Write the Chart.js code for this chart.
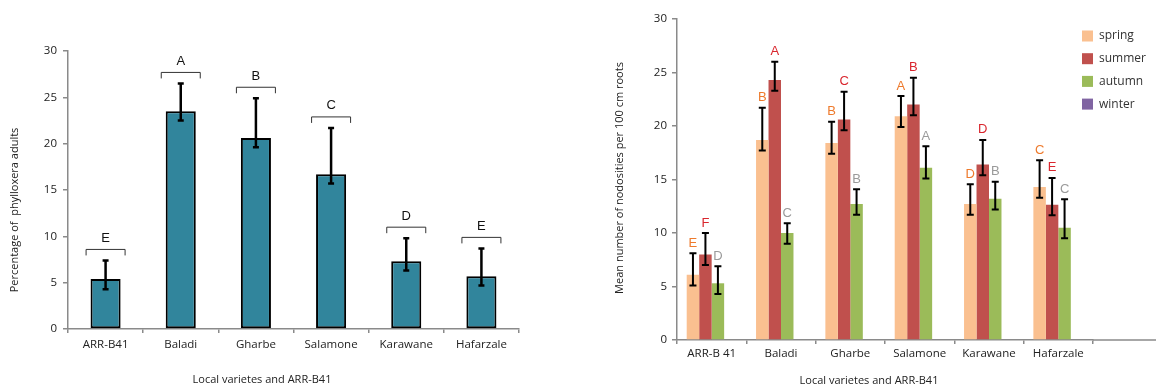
<!DOCTYPE html>
<html>
<head>
<meta charset="utf-8">
<script src="https://cdn.jsdelivr.net/npm/chart.js@4.4.1/dist/chart.umd.min.js"></script>
<style>
  html, body { margin: 0; padding: 0; background: #fff; }
  #wrap { position: relative; width: 1156px; height: 388px; }
  canvas { position: absolute; top: 0; }
</style>
</head>
<body>
<div id="wrap">
  <canvas id="adultsChart" width="578" height="388" style="left:0"></canvas>
  <canvas id="nodoChart" width="578" height="388" style="left:578px"></canvas>
</div>
<script>
// left chart: percentage of phylloxera adults
const varieties = ['ARR-B41', 'Baladi', 'Gharbe', 'Salamone', 'Karawane', 'Hafarzale'];
const adults = [5.4, 23.5, 20.6, 16.7, 7.3, 5.7];
const adultsErrUp = [2.0, 3.0, 4.3, 5.0, 2.5, 3.0];
const adultsErrDown = [1.1, 1.0, 1.0, 1.0, 1.0, 1.0];
const adultsLetters = ['E', 'A', 'B', 'C', 'D', 'E'];

// right chart: nodosities per season
const varietiesRight = ['ARR-B 41', 'Baladi', 'Gharbe', 'Salamone', 'Karawane', 'Hafarzale'];
const seasons = ['spring', 'summer', 'autumn', 'winter'];
const spring = [6.1, 18.7, 18.4, 20.9, 12.7, 14.3];
const springErrUp = [2.0, 3.0, 2.0, 1.9, 1.85, 2.5];
const springErrDown = [1, 1, 1, 1, 1, 1];
const springLetters = ['E', 'B', 'B', 'A', 'D', 'C'];
const summer = [8.0, 24.3, 20.6, 22.0, 16.4, 12.65];
const summerErrUp = [2.0, 1.7, 2.6, 2.5, 2.3, 2.5];
const summerErrDown = [1, 1, 1, 1, 1, 1];
const summerLetters = ['F', 'A', 'C', 'B', 'D', 'E'];
const autumn = [5.3, 10.0, 12.7, 16.1, 13.2, 10.5];
const autumnErrUp = [1.6, 0.9, 1.4, 2.0, 1.6, 2.65];
const autumnErrDown = [1, 1, 1, 1, 1, 1];
const autumnLetters = ['D', 'C', 'B', 'A', 'B', 'C'];
const winter = [null, null, null, null, null, null];

const yMin = 0;
const yMax = 30;
const yStep = 5;

const tickFont = { family: 'Open Sans', size: 11.5 };
const axisGray = '#8a8a8a';

// error bars + significance letters (and brackets on the left chart)
const errorBarsPlugin = {
    id: 'errorBars',
    afterDatasetsDraw(chart, args, opts) {
        const ctx = chart.ctx;
        const yScale = chart.scales.y;
        chart.data.datasets.forEach((ds, i) => {
            if (!ds.errUp) return;
            const meta = chart.getDatasetMeta(i);
            meta.data.forEach((bar, j) => {
                const v = ds.data[j];
                if (v == null) return;
                const x = bar.x;
                const yTop = yScale.getPixelForValue(v + ds.errUp[j]);
                const yBot = yScale.getPixelForValue(v - ds.errDown[j]);
                ctx.save();
                ctx.strokeStyle = '#000';
                ctx.lineWidth = opts.lineWidth;
                ctx.beginPath();
                ctx.moveTo(x, yTop);
                ctx.lineTo(x, yBot);
                ctx.moveTo(x - opts.cap, yTop);
                ctx.lineTo(x + opts.cap, yTop);
                ctx.moveTo(x - opts.cap, yBot);
                ctx.lineTo(x + opts.cap, yBot);
                ctx.stroke();

                let labelY = yTop - opts.letterGap;
                if (opts.bracket) {
                    const b = opts.bracket;
                    const top = yTop - b.gap;
                    ctx.strokeStyle = '#333';
                    ctx.lineWidth = 1;
                    ctx.beginPath();
                    ctx.moveTo(x - b.half, top + b.legs);
                    ctx.lineTo(x - b.half, top);
                    ctx.lineTo(x + b.half, top);
                    ctx.lineTo(x + b.half, top + b.legs);
                    ctx.stroke();
                    labelY = top - opts.letterGap;
                }
                ctx.fillStyle = ds.letterColor;
                ctx.font = opts.font;
                ctx.textAlign = 'center';
                ctx.textBaseline = 'middle';
                ctx.fillText(ds.letters[j], x, labelY);
                ctx.restore();
            });
        });
    }
};

// axis titles placed where the original figure has them
const titlesPlugin = {
    id: 'titles',
    afterDraw(chart, args, opts) {
        const ctx = chart.ctx;
        ctx.save();
        ctx.fillStyle = '#222';
        ctx.font = opts.font;
        ctx.textAlign = 'center';
        ctx.textBaseline = 'middle';
        ctx.fillText(opts.xText, opts.xPos[0], opts.xPos[1]);
        ctx.translate(opts.yPos[0], opts.yPos[1]);
        ctx.rotate(-Math.PI / 2);
        ctx.fillText(opts.yText, 0, 0);
        ctx.restore();
    }
};

// right chart: x axis line runs on past the last category, plus the legend
const extrasPlugin = {
    id: 'extras',
    afterDraw(chart, args, opts) {
        if (!opts.enabled) return;
        const ctx = chart.ctx;
        const xScale = chart.scales.x;
        ctx.save();
        ctx.strokeStyle = axisGray;
        ctx.lineWidth = 1.5;
        ctx.beginPath();
        ctx.moveTo(chart.chartArea.right, xScale.top);
        ctx.lineTo(chart.width, xScale.top);
        ctx.stroke();

        ctx.font = opts.font;
        ctx.textBaseline = 'middle';
        ctx.textAlign = 'left';
        chart.data.datasets.forEach((ds, i) => {
            const cy = opts.top + i * opts.rowGap;
            ctx.fillStyle = ds.backgroundColor;
            ctx.fillRect(opts.left, cy - 5.5, 11, 11);
            ctx.fillStyle = '#333';
            ctx.fillText(ds.label, opts.left + 17, cy);
        });
        ctx.restore();
    }
};

function yScaleOpts(width, pad) {
    return {
        min: yMin,
        max: yMax,
        afterFit: (s) => { s.width = width; },
        ticks: { stepSize: yStep, font: tickFont, color: '#222', padding: pad },
        grid: { drawOnChartArea: false, tickLength: 5, color: axisGray, lineWidth: 1.5 },
        border: { display: true, color: axisGray, width: 1.5 }
    };
}

function xScaleOpts(height, pad) {
    return {
        afterFit: (s) => { s.height = height; },
        ticks: { font: tickFont, color: '#222', padding: pad, maxRotation: 0, autoSkip: false },
        grid: { drawOnChartArea: false, tickLength: 4, color: axisGray, lineWidth: 1.5, offset: true },
        border: { display: true, color: axisGray, width: 1.5 }
    };
}

document.addEventListener('DOMContentLoaded', () => {
    new Chart(document.getElementById('adultsChart'), {
        type: 'bar',
        plugins: [errorBarsPlugin, titlesPlugin, extrasPlugin],
        data: {
            labels: varieties,
            datasets: [{
                label: 'Percentage of phylloxera adults',
                data: adults,
                errUp: adultsErrUp,
                errDown: adultsErrDown,
                letters: adultsLetters,
                letterColor: '#111',
                backgroundColor: '#31859C',
                borderColor: '#000',
                borderWidth: 2,
                borderSkipped: false,
                categoryPercentage: 1,
                barPercentage: 0.4
            }]
        },
        options: {
            responsive: false,
            animation: false,
            layout: { padding: { left: 0, right: 59, top: 51, bottom: 0 } },
            scales: {
                x: xScaleOpts(59, 5),
                y: yScaleOpts(68, 6)
            },
            plugins: {
                legend: { display: false },
                tooltip: { enabled: false },
                errorBars: {
                    lineWidth: 2.5, cap: 3, letterGap: 11,
                    font: '13px "Liberation Sans"',
                    bracket: { gap: 11, legs: 6, half: 19.5 }
                },
                titles: {
                    font: '11px "Open Sans"',
                    xText: 'Local varietes and ARR-B41', xPos: [262, 380],
                    yText: 'Percentage of  phylloxera adults', yPos: [15, 210]
                },
                extras: { enabled: false }
            }
        }
    });

    const seasonColors = ['#FAC090', '#C0504D', '#9BBB59', '#8064A2'];
    const letterColors = ['#EE7A2C', '#D9262E', '#9A9A9A', '#8064A2'];
    const seasonData = [spring, summer, autumn, winter];
    const seasonUp = [springErrUp, summerErrUp, autumnErrUp, null];
    const seasonDown = [springErrDown, summerErrDown, autumnErrDown, null];
    const seasonLetters = [springLetters, summerLetters, autumnLetters, null];

    new Chart(document.getElementById('nodoChart'), {
        type: 'bar',
        plugins: [errorBarsPlugin, titlesPlugin, extrasPlugin],
        data: {
            labels: varietiesRight,
            datasets: seasons.map((s, i) => ({
                label: s,
                data: seasonData[i],
                errUp: seasonUp[i],
                errDown: seasonDown[i],
                letters: seasonLetters[i],
                letterColor: letterColors[i],
                backgroundColor: seasonColors[i],
                borderWidth: 0,
                categoryPercentage: 0.72,
                barPercentage: 1
            }))
        },
        options: {
            responsive: false,
            animation: false,
            layout: { padding: { left: 0, right: 63, top: 19, bottom: 0 } },
            scales: {
                x: xScaleOpts(48, 3),
                y: yScaleOpts(99, 5)
            },
            plugins: {
                legend: { display: false },
                tooltip: { enabled: false },
                errorBars: {
                    lineWidth: 2, cap: 3.5, letterGap: 10,
                    font: '13px "Liberation Sans"'
                },
                titles: {
                    font: '11px "Open Sans"',
                    xText: 'Local varietes and ARR-B41', xPos: [291, 381],
                    yText: 'Mean number of nodosities per 100 cm roots', yPos: [42, 178]
                },
                extras: { enabled: true, left: 504, top: 36, rowGap: 22.7, font: '12px "Open Sans"' }
            }
        }
    });
});
</script>
</body>
</html>
